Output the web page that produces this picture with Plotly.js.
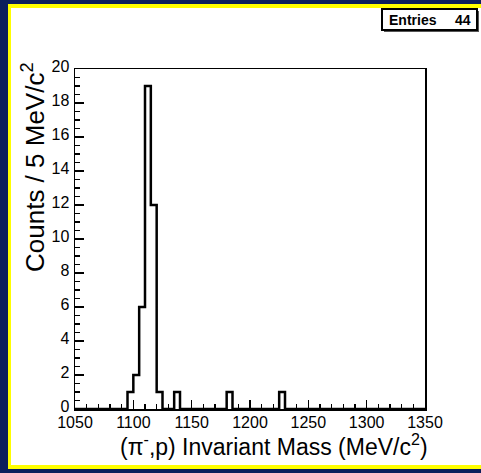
<!DOCTYPE html>
<html>
<head>
<meta charset="utf-8">
<script src="https://cdn.plot.ly/plotly-3.0.1.min.js"></script>
<style>
  body { margin:0; background:#0c1f5c; width:481px; height:473px; overflow:hidden; }
  #yb { position:absolute; left:8px; top:4px; width:473px; height:465px; background:#ffff00; }
  #wb { position:absolute; left:11px; top:8px; width:470px; height:457px; background:#ffffff; }
  #plot { position:absolute; left:0; top:0; width:481px; height:473px; }
</style>
</head>
<body>
<div id="yb"></div>
<div id="wb"></div>
<div id="plot"></div>
<script>
// Histogram: 5 MeV bins from 1050 to 1350
const binStart = 1050;
const binWidth = 5;
const counts = [
  0,0,0,0,0,0,0,0,0,1,   // 1050-1100
  2,6,19,12,1,0,0,1,0,0, // 1100-1150
  0,0,0,0,0,0,1,0,0,0,   // 1150-1200
  0,0,0,0,0,1,0,0,0,0,   // 1200-1250
  0,0,0,0,0,0,0,0,0,0,   // 1250-1300
  0,0,0,0,0,0,0,0,0,0    // 1300-1350
];
const entries = 44;
const xTickVals = [1050,1100,1150,1200,1250,1300,1350];
const yTickVals = [0,2,4,6,8,10,12,14,16,18,20];

const xs = [], ys = [];
for (let i = 0; i < counts.length; i++) { xs.push(binStart + i*binWidth); ys.push(counts[i]); }
xs.push(binStart + counts.length*binWidth); ys.push(counts[counts.length-1]);

const font = 'Liberation Sans, Arial, Helvetica, sans-serif';

const trace = {
  x: xs, y: ys, type: 'scatter', mode: 'lines',
  line: {shape: 'hv', color: '#000', width: 2.5},
  hoverinfo: 'skip', showlegend: false
};

const layout = {
  width: 481, height: 473,
  margin: {l: 75, r: 56, t: 69, b: 64, pad: 0},
  paper_bgcolor: 'rgba(0,0,0,0)',
  plot_bgcolor: 'rgba(0,0,0,0)',
  showlegend: false,
  xaxis: {
    range: [1050, 1350], showgrid: false, zeroline: false,
    showline: true, linecolor: '#000', linewidth: 1.5, mirror: true,
    ticks: 'inside', ticklen: 9, tickwidth: 1.5, tickcolor: '#000',
    tickvals: xTickVals, ticktext: xTickVals.map(String),
    minor: {dtick: 10, ticks: 'inside', ticklen: 5, tickwidth: 1.5, tickcolor: '#000', showgrid: false},
    tickfont: {family: font, size: 16, color: '#000'},
    ticklabelstandoff: -2,
    fixedrange: true
  },
  yaxis: {
    range: [0, 20], showgrid: false, zeroline: false,
    showline: true, linecolor: '#000', linewidth: 1.5, mirror: true,
    ticks: 'inside', ticklen: 9, tickwidth: 1.5, tickcolor: '#000',
    tickvals: yTickVals, ticktext: yTickVals.map(String),
    minor: {dtick: 0.5, ticks: 'inside', ticklen: 5, tickwidth: 1.5, tickcolor: '#000', showgrid: false},
    tickfont: {family: font, size: 16, color: '#000'},
    ticklabelstandoff: 1,
    ticklabelshift: -3,
    fixedrange: true
  },
  shapes: [
    {type: 'rect', xref: 'paper', yref: 'paper',
     x0: (384-75)/350, x1: (479-75)/350, y0: (409-32)/340, y1: (409-11)/340,
     fillcolor: '#555', line: {width: 0}},
    {type: 'rect', xref: 'paper', yref: 'paper',
     x0: (382-75)/350, x1: (477-75)/350, y0: (409-30)/340, y1: (409-9)/340,
     fillcolor: '#fff', line: {color: '#000', width: 2}}
  ],
  annotations: [
    {text: 'Counts / 5 MeV/c<sup>2</sup>', xref: 'paper', yref: 'paper',
     x: (33-75)/350, y: (409-60)/340, xanchor: 'center', yanchor: 'top',
     textangle: -90, showarrow: false, font: {family: font, size: 26, color: '#000'}},
    {text: '(π<sup>-</sup>,p) Invariant Mass (MeV/c<sup>2</sup>)', xref: 'paper', yref: 'paper',
     x: (430-75)/350, y: (409-445)/340, xanchor: 'right', yanchor: 'middle',
     showarrow: false, font: {family: font, size: 23, color: '#000'}},
    {text: '<b>Entries</b>', xref: 'paper', yref: 'paper',
     x: (387-75)/350, y: (409-19.5)/340, xanchor: 'left', yanchor: 'middle',
     showarrow: false, font: {family: font, size: 14, color: '#000'}},
    {text: '<b>' + entries + '</b>', xref: 'paper', yref: 'paper',
     x: (473-75)/350, y: (409-19.5)/340, xanchor: 'right', yanchor: 'middle',
     showarrow: false, font: {family: font, size: 14, color: '#000'}}
  ]
};

Plotly.newPlot('plot', [trace], layout, {staticPlot: true, displayModeBar: false});
</script>
</body>
</html>
